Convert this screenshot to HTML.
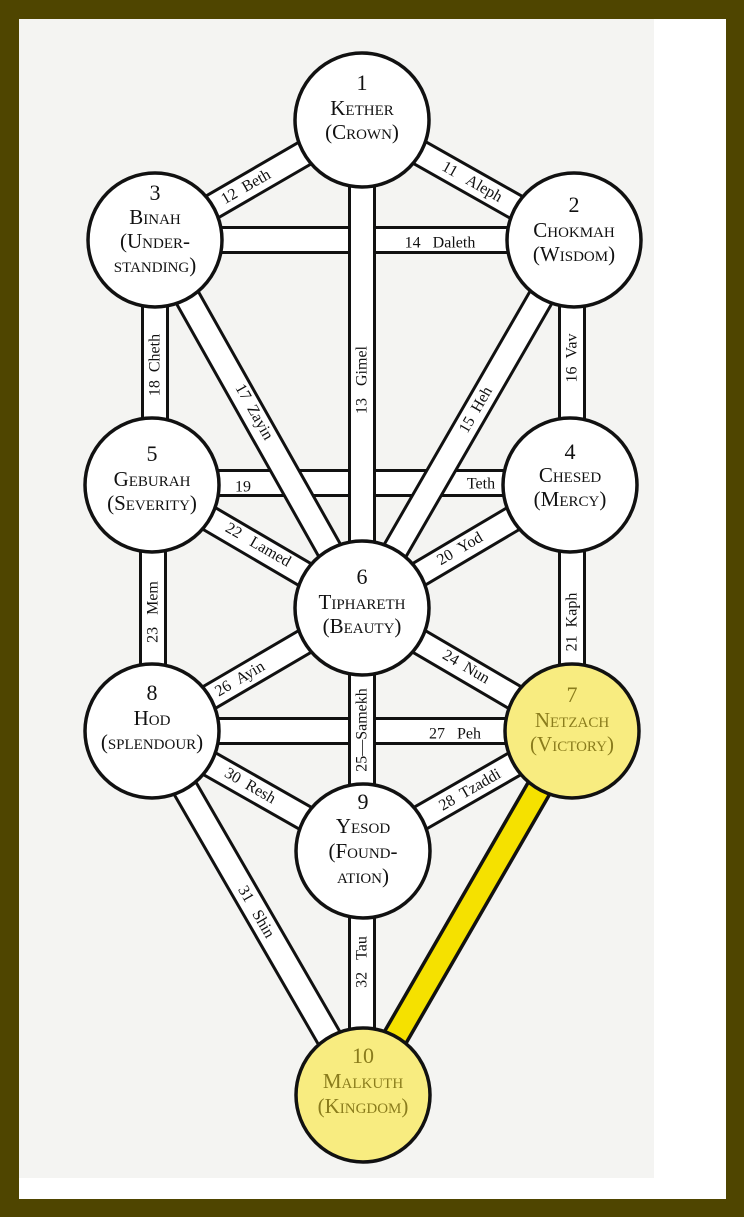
<!DOCTYPE html>
<html><head><meta charset="utf-8"><style>
html,body{margin:0;padding:0;background:#4f4500;}
svg{display:block;}
.pl{font-family:"Liberation Serif",serif;font-size:16px;fill:#111;}
.sn{font-family:"Liberation Serif",serif;fill:#111;text-anchor:middle;}
.num{font-size:22px;}
.nm{font-size:21px;font-variant:small-caps;}
.y{fill:#8a7c1c;}
</style></head><body>
<svg width="744" height="1217" viewBox="0 0 744 1217" xmlns="http://www.w3.org/2000/svg">
<rect x="0" y="0" width="744" height="1217" fill="#4f4500"/>
<rect x="19" y="19" width="707" height="1180" fill="#ffffff"/>
<rect x="19" y="19" width="635" height="1159" fill="#f4f4f2"/>

<g stroke-linecap="butt" fill="none">
<g>
<line x1="155" y1="240" x2="574" y2="240" stroke="#111" stroke-width="28"/>
<line x1="155" y1="240" x2="574" y2="240" stroke="#fff" stroke-width="22"/>
<line x1="152" y1="483" x2="570" y2="483" stroke="#111" stroke-width="28"/>
<line x1="152" y1="483" x2="570" y2="483" stroke="#fff" stroke-width="22"/>
<line x1="152" y1="731" x2="572" y2="731" stroke="#111" stroke-width="28"/>
<line x1="152" y1="731" x2="572" y2="731" stroke="#fff" stroke-width="22"/>
</g>
<g>
<line x1="362" y1="120" x2="155" y2="240" stroke="#111" stroke-width="28"/>
<line x1="362" y1="120" x2="155" y2="240" stroke="#fff" stroke-width="22"/>
<line x1="362" y1="120" x2="574" y2="240" stroke="#111" stroke-width="28"/>
<line x1="362" y1="120" x2="574" y2="240" stroke="#fff" stroke-width="22"/>
<line x1="155" y1="240" x2="362" y2="608" stroke="#111" stroke-width="28"/>
<line x1="155" y1="240" x2="362" y2="608" stroke="#fff" stroke-width="22"/>
<line x1="574" y1="240" x2="362" y2="608" stroke="#111" stroke-width="28"/>
<line x1="574" y1="240" x2="362" y2="608" stroke="#fff" stroke-width="22"/>
<line x1="152" y1="485" x2="362" y2="608" stroke="#111" stroke-width="28"/>
<line x1="152" y1="485" x2="362" y2="608" stroke="#fff" stroke-width="22"/>
<line x1="570" y1="485" x2="362" y2="608" stroke="#111" stroke-width="28"/>
<line x1="570" y1="485" x2="362" y2="608" stroke="#fff" stroke-width="22"/>
<line x1="152" y1="731" x2="362" y2="608" stroke="#111" stroke-width="28"/>
<line x1="152" y1="731" x2="362" y2="608" stroke="#fff" stroke-width="22"/>
<line x1="572" y1="731" x2="362" y2="608" stroke="#111" stroke-width="28"/>
<line x1="572" y1="731" x2="362" y2="608" stroke="#fff" stroke-width="22"/>
<line x1="152" y1="731" x2="363" y2="851" stroke="#111" stroke-width="28"/>
<line x1="152" y1="731" x2="363" y2="851" stroke="#fff" stroke-width="22"/>
<line x1="572" y1="731" x2="363" y2="851" stroke="#111" stroke-width="28"/>
<line x1="572" y1="731" x2="363" y2="851" stroke="#fff" stroke-width="22"/>
<line x1="152" y1="731" x2="362" y2="1095" stroke="#111" stroke-width="28"/>
<line x1="152" y1="731" x2="362" y2="1095" stroke="#fff" stroke-width="22"/>
<line x1="572" y1="731" x2="362" y2="1095" stroke="#111" stroke-width="28"/>
<line x1="572" y1="731" x2="362" y2="1095" stroke="#f5e100" stroke-width="21"/>
</g>
<g>
<line x1="362" y1="120" x2="362" y2="608" stroke="#111" stroke-width="28"/>
<line x1="362" y1="120" x2="362" y2="608" stroke="#fff" stroke-width="22"/>
<line x1="155" y1="240" x2="155" y2="485" stroke="#111" stroke-width="28"/>
<line x1="155" y1="240" x2="155" y2="485" stroke="#fff" stroke-width="22"/>
<line x1="572" y1="240" x2="572" y2="485" stroke="#111" stroke-width="28"/>
<line x1="572" y1="240" x2="572" y2="485" stroke="#fff" stroke-width="22"/>
<line x1="153" y1="485" x2="153" y2="731" stroke="#111" stroke-width="28"/>
<line x1="153" y1="485" x2="153" y2="731" stroke="#fff" stroke-width="22"/>
<line x1="572" y1="485" x2="572" y2="731" stroke="#111" stroke-width="28"/>
<line x1="572" y1="485" x2="572" y2="731" stroke="#fff" stroke-width="22"/>
<line x1="362" y1="608" x2="362" y2="851" stroke="#111" stroke-width="28"/>
<line x1="362" y1="608" x2="362" y2="851" stroke="#fff" stroke-width="22"/>
<line x1="362" y1="851" x2="362" y2="1095" stroke="#111" stroke-width="28"/>
<line x1="362" y1="851" x2="362" y2="1095" stroke="#fff" stroke-width="22"/>
</g>
</g>

<g class="pl" text-anchor="middle" dominant-baseline="central">
<text transform="translate(246,187) rotate(-30)">12&#160;&#160;Beth</text>
<text transform="translate(472,182) rotate(29.5)">11&#160;&#160;&#160;Aleph</text>
<text x="440" y="243">14&#160;&#160;&#160;Daleth</text>
<text transform="translate(362,380) rotate(-90)">13&#160;&#160;&#160;Gimel</text>
<text transform="translate(155,365) rotate(-90)">18&#160;&#160;Cheth</text>
<text transform="translate(572,358) rotate(-90)">16&#160;&#160;Vav</text>
<text transform="translate(254,412) rotate(60.6)">17&#160;&#160;Zayin</text>
<text transform="translate(476,410) rotate(-60)">15&#160;&#160;Heh</text>
<text x="243" y="487">19</text>
<text x="481" y="484">Teth</text>
<text transform="translate(258,545) rotate(30)">22&#160;&#160;&#160;Lamed</text>
<text transform="translate(460,549) rotate(-30.5)">20&#160;&#160;Yod</text>
<text transform="translate(572,622) rotate(-90)">21&#160;&#160;Kaph</text>
<text transform="translate(153,612) rotate(-90)">23&#160;&#160;&#160;Mem</text>
<text transform="translate(240,679) rotate(-30.5)">26&#160;&#160;Ayin</text>
<text transform="translate(466,667) rotate(30.5)">24&#160;&#160;Nun</text>
<text x="455" y="734">27&#160;&#160;&#160;Peh</text>
<text transform="translate(362,730) rotate(-90)">25—Samekh</text>
<text transform="translate(250,786) rotate(30)">30&#160;&#160;Resh</text>
<text transform="translate(470,790) rotate(-30)">28&#160;&#160;Tzaddi</text>
<text transform="translate(256,912) rotate(60)">31&#160;&#160;&#160;Shin</text>
<text transform="translate(362,962) rotate(-90)">32&#160;&#160;&#160;Tau</text>
</g>

<g stroke="#111" stroke-width="3.5">
<circle cx="362" cy="120" r="67" fill="#fff"/>
<circle cx="155" cy="240" r="67" fill="#fff"/>
<circle cx="574" cy="240" r="67" fill="#fff"/>
<circle cx="152" cy="485" r="67" fill="#fff"/>
<circle cx="570" cy="485" r="67" fill="#fff"/>
<circle cx="362" cy="608" r="67" fill="#fff"/>
<circle cx="152" cy="731" r="67" fill="#fff"/>
<circle cx="572" cy="731" r="67" fill="#f8ec80"/>
<circle cx="363" cy="851" r="67" fill="#fff"/>
<circle cx="363" cy="1095" r="67" fill="#f8ec80"/>
</g>

<g class="sn">
<text class="num" x="362" y="90">1</text>
<text class="nm" x="362" y="115">Kether</text>
<text class="nm" x="362" y="139">(Crown)</text>

<text class="num" x="155" y="200">3</text>
<text class="nm" x="155" y="224">Binah</text>
<text class="nm" x="155" y="248">(Under-</text>
<text class="nm" x="155" y="272">standing)</text>

<text class="num" x="574" y="212">2</text>
<text class="nm" x="574" y="237">Chokmah</text>
<text class="nm" x="574" y="261">(Wisdom)</text>

<text class="num" x="152" y="461">5</text>
<text class="nm" x="152" y="486">Geburah</text>
<text class="nm" x="152" y="510">(Severity)</text>

<text class="num" x="570" y="459">4</text>
<text class="nm" x="570" y="482">Chesed</text>
<text class="nm" x="570" y="506">(Mercy)</text>

<text class="num" x="362" y="584">6</text>
<text class="nm" x="362" y="609">Tiphareth</text>
<text class="nm" x="362" y="633">(Beauty)</text>

<text class="num" x="152" y="700">8</text>
<text class="nm" x="152" y="725">Hod</text>
<text class="nm" x="152" y="749">(splendour)</text>

<text class="num y" x="572" y="702">7</text>
<text class="nm y" x="572" y="727">Netzach</text>
<text class="nm y" x="572" y="751">(Victory)</text>

<text class="num" x="363" y="809">9</text>
<text class="nm" x="363" y="833">Yesod</text>
<text class="nm" x="363" y="858">(Found-</text>
<text class="nm" x="363" y="883">ation)</text>

<text class="num y" x="363" y="1063">10</text>
<text class="nm y" x="363" y="1088">Malkuth</text>
<text class="nm y" x="363" y="1113">(Kingdom)</text>
</g>
</svg>
</body></html>
